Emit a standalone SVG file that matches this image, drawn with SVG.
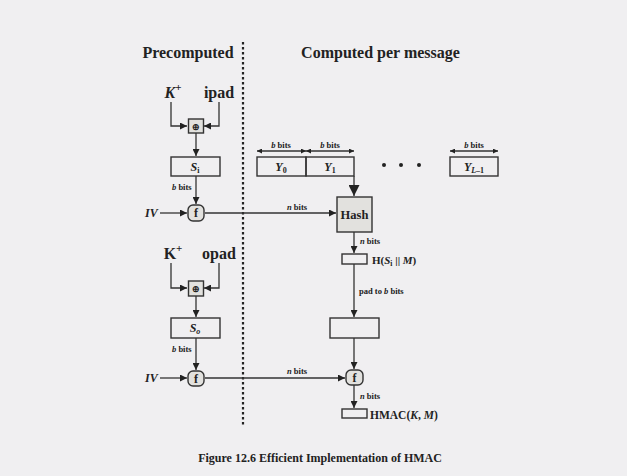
<svg xmlns="http://www.w3.org/2000/svg" width="627" height="476" viewBox="0 0 627 476">
<defs>
<marker id="ah" viewBox="0 0 10 10" refX="10" refY="5" markerWidth="7" markerHeight="7" orient="auto" markerUnits="userSpaceOnUse"><path d="M0,0 L10,5 L0,10 z" fill="#222"/></marker>
<marker id="ahb" viewBox="0 0 10 10" refX="10" refY="5" markerWidth="11" markerHeight="11" orient="auto" markerUnits="userSpaceOnUse"><path d="M0,0 L10,5 L0,10 z" fill="#222"/></marker>
<marker id="as" viewBox="0 0 10 10" refX="10" refY="5" markerWidth="5" markerHeight="5" orient="auto-start-reverse" markerUnits="userSpaceOnUse"><path d="M0,0 L10,5 L0,10 z" fill="#222"/></marker>
</defs>
<style>
.t{font-family:"Liberation Serif",serif;font-weight:bold;fill:#222}
.h{font-size:16px}
.s{font-size:8.5px}
.i{font-style:italic}
.box{fill:none;stroke:#333;stroke-width:1.4}
.gbox{fill:#e2e1de;stroke:#333;stroke-width:1.4}
.ln{fill:none;stroke:#333;stroke-width:1.3}
</style>
<rect width="627" height="476" fill="#f0eff1"/>
<line x1="243" y1="42" x2="243" y2="426" stroke="#222" stroke-width="2.2" stroke-dasharray="2.5,2.5"/>
<text class="t h" x="188" y="58" text-anchor="middle">Precomputed</text>
<text class="t h" x="380.5" y="58" text-anchor="middle">Computed per message</text>

<g id="connectors">
<path class="ln" d="M171,102 V126 H187" marker-end="url(#ah)"/>
<path class="ln" d="M219,102 V126 H204" marker-end="url(#ah)"/>
<path class="ln" d="M196,133 V156" marker-end="url(#ah)"/>
<path class="ln" d="M196,176 V204" marker-end="url(#ah)"/>
<path class="ln" d="M160,213 H187" marker-end="url(#ah)"/>
<path class="ln" d="M205,213 H336" marker-end="url(#ah)"/>
<path class="ln" d="M354,176 V196" stroke-width="2" marker-end="url(#ahb)"/>
<path class="ln" d="M354,232 V253" marker-end="url(#ah)"/>
<path class="ln" d="M354,264 V317" marker-end="url(#ah)"/>
<path class="ln" d="M354,338 V369" marker-end="url(#ah)"/>
<path class="ln" d="M354,385 V408" marker-end="url(#ah)"/>
<path class="ln" d="M171,263 V288 H187" marker-end="url(#ah)"/>
<path class="ln" d="M219,263 V288 H204" marker-end="url(#ah)"/>
<path class="ln" d="M196,296 V317" marker-end="url(#ah)"/>
<path class="ln" d="M196,338 V370" marker-end="url(#ah)"/>
<path class="ln" d="M160,378 H187" marker-end="url(#ah)"/>
<path class="ln" d="M205,378 H345" marker-end="url(#ah)"/>
<path class="ln" d="M257,151 H306" stroke-width="1.1" marker-start="url(#as)" marker-end="url(#as)"/>
<path class="ln" d="M306,151 H354" stroke-width="1.1" marker-start="url(#as)" marker-end="url(#as)"/>
<path class="ln" d="M450,151 H498" stroke-width="1.1" marker-start="url(#as)" marker-end="url(#as)"/>
</g>

<g id="inner-key">
<text class="t i" x="173" y="98" font-size="16" text-anchor="middle">K<tspan font-size="11" dy="-7" font-style="normal">+</tspan></text>
<text class="t" x="219" y="98" font-size="16" text-anchor="middle">ipad</text>
</g>
<g id="xor1"><rect class="gbox" x="188.5" y="119" width="15" height="14" stroke-width="1"/><text class="t" x="196" y="129.5" font-size="9" text-anchor="middle">⊕</text></g>
<g id="si"><rect class="box" x="171" y="157" width="49" height="19"/><text class="t i" x="195" y="171" font-size="12" text-anchor="middle">S<tspan font-size="8" dy="2" font-style="normal">i</tspan></text></g>
<text class="t s" x="172" y="190"><tspan class="i">b</tspan> bits</text>
<g id="iv1"><text class="t i" x="145" y="217" font-size="12">IV</text></g>
<g id="f1"><rect class="gbox" x="188" y="205" width="16" height="16" rx="5" stroke-width="1.3"/><text class="t" x="196" y="217" font-size="12" text-anchor="middle">f</text></g>
<text class="t s" x="297" y="210" text-anchor="middle"><tspan class="i">n</tspan> bits</text>

<g id="blocks">
<rect class="box" x="257" y="157" width="49" height="19"/><text class="t i" x="281" y="171" font-size="12" text-anchor="middle">Y<tspan font-size="8" dy="2" font-style="normal">0</tspan></text>
<rect class="box" x="306" y="157" width="48" height="19"/><text class="t i" x="330" y="171" font-size="12" text-anchor="middle">Y<tspan font-size="8" dy="2" font-style="normal">1</tspan></text>
<rect class="box" x="450" y="157" width="48" height="19"/><text class="t i" x="474" y="171" font-size="12" text-anchor="middle">Y<tspan font-size="8" dy="2">L</tspan><tspan font-size="8" font-style="normal">–1</tspan></text>
<circle cx="384" cy="165" r="2" fill="#222"/><circle cx="401" cy="165" r="2" fill="#222"/><circle cx="419" cy="165" r="2" fill="#222"/>
<text class="t s" x="281" y="148" text-anchor="middle"><tspan class="i">b</tspan> bits</text>
<text class="t s" x="330" y="148" text-anchor="middle"><tspan class="i">b</tspan> bits</text>
<text class="t s" x="474" y="148" text-anchor="middle"><tspan class="i">b</tspan> bits</text>
</g>
<g id="hash"><rect class="gbox" x="337" y="197" width="35" height="35"/><text class="t" x="354.5" y="219" font-size="12.5" text-anchor="middle">Hash</text></g>
<text class="t s" x="360" y="244"><tspan class="i">n</tspan> bits</text>
<g id="hinner"><rect class="box" x="342" y="254" width="25" height="10" stroke-width="1.2"/><text class="t" x="372" y="264" font-size="11">H(<tspan class="i">S</tspan><tspan font-size="7.5" dy="2">i</tspan><tspan dy="-2"> || </tspan><tspan class="i">M</tspan>)</text></g>
<text class="t s" x="359" y="294">pad to <tspan class="i">b</tspan> bits</text>
<g id="padded"><rect class="box" x="330" y="318" width="49" height="20"/></g>

<g id="outer-key">
<text class="t" x="173" y="259" font-size="16" text-anchor="middle">K<tspan font-size="11" dy="-7">+</tspan></text>
<text class="t" x="219" y="259" font-size="16" text-anchor="middle">opad</text>
</g>
<g id="xor2"><rect class="gbox" x="188.5" y="281" width="15" height="15" stroke-width="1"/><text class="t" x="196" y="292" font-size="9" text-anchor="middle">⊕</text></g>
<g id="so"><rect class="box" x="171" y="318" width="49" height="20"/><text class="t i" x="195" y="332" font-size="12" text-anchor="middle">S<tspan font-size="8" dy="2">o</tspan></text></g>
<text class="t s" x="172" y="352"><tspan class="i">b</tspan> bits</text>
<g id="iv2"><text class="t i" x="145" y="382" font-size="12">IV</text></g>
<g id="f2"><rect class="gbox" x="188" y="371" width="16" height="15" rx="5" stroke-width="1.3"/><text class="t" x="196" y="382.5" font-size="12" text-anchor="middle">f</text></g>
<text class="t s" x="297" y="374" text-anchor="middle"><tspan class="i">n</tspan> bits</text>
<g id="f3"><rect class="gbox" x="346" y="370" width="17" height="15" rx="5" stroke-width="1.3"/><text class="t" x="354.5" y="381.5" font-size="12" text-anchor="middle">f</text></g>
<text class="t s" x="360" y="399"><tspan class="i">n</tspan> bits</text>
<g id="hmac"><rect class="box" x="342" y="409" width="25" height="9" stroke-width="1.2"/><text class="t" x="370" y="419" font-size="11.5">HMAC(<tspan class="i">K</tspan>, <tspan class="i">M</tspan>)</text></g>

<text class="t" x="320" y="462" font-size="12" text-anchor="middle">Figure 12.6  Efficient Implementation of HMAC</text>
</svg>
